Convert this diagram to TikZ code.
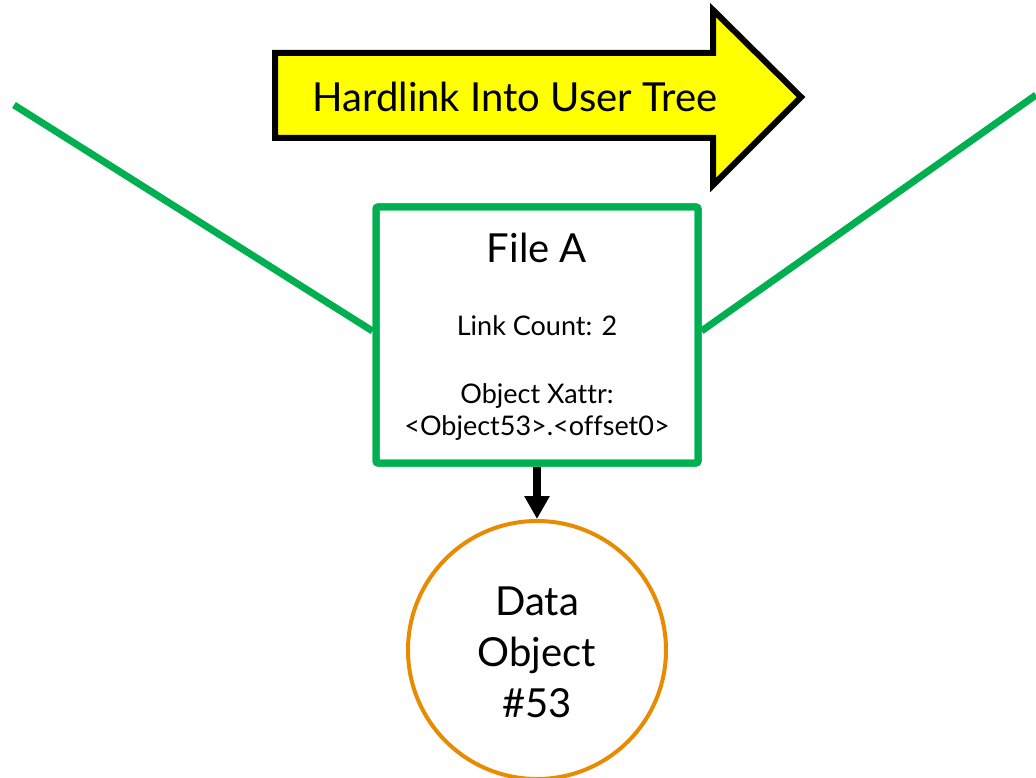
\documentclass[tikz,border=0pt]{standalone}
\usepackage{fontspec}
\setmainfont{Lato}[Ligatures=NoCommon]
\usetikzlibrary{arrows.meta}
\definecolor{linkgreen}{HTML}{00B050}
\definecolor{objorange}{HTML}{E98B00}
\definecolor{bannerfill}{HTML}{FFFF00}
\tikzset{
  treeline/.style={draw=linkgreen, line width=7pt},
  filebox/.style={draw=linkgreen, line width=7pt, rounded corners=2pt, fill=white,
    minimum width=322pt, minimum height=256pt, inner sep=0pt},
  objcircle/.style={circle, draw=objorange, line width=4pt, fill=white,
    minimum size=258pt, inner sep=0pt},
  pointer/.style={draw=black, line width=8pt, -{Triangle[width=24pt,length=23pt]}},
  banner/.style={draw=black, line width=6pt, fill=bannerfill, line join=miter},
}
\begin{document}
\begin{tikzpicture}[x=1pt, y=-1pt]
\useasboundingbox (0,0) rectangle (1036,778);

% hardlink banner arrow
\draw[banner] (275,53) -- (713,53) -- (713,10) -- (801,97) -- (713,185)
  -- (713,138) -- (275,138) -- cycle;
\node (banner) at (515,97) {\fontsize{40}{48}\selectfont Hardlink Into User Tree};

% file node with its links into the two trees
\coordinate (lt) at (14,105);
\coordinate (rt) at (1036,95);
\node[filebox] (file) at (537,335) {};
\draw[treeline] (lt) -- (file.west |- 0,331);
\draw[treeline] (rt) -- (file.east |- 0,331);
\node[filebox, fill=none] at (537,335) {};

\node (title) at (537,248) {\fontsize{40}{48}\selectfont File A};
\node (count) at (537,326) {\fontsize{27}{32}\selectfont Link Count: 2};
\node[align=center, font=\fontsize{27}{32}\selectfont] (xattr) at (537,412)
  {Object Xattr:\\{<}Object53{>}.{<}offset0{>}};

% data object
\node[objcircle] (obj) at (537,650) {};
\node[align=center, font=\fontsize{40}{51}\selectfont] (objtext) at (537,652)
  {Data\\Object\\\#53};

\draw[pointer] (file.south) -- (obj.north);
\end{tikzpicture}
\end{document}
